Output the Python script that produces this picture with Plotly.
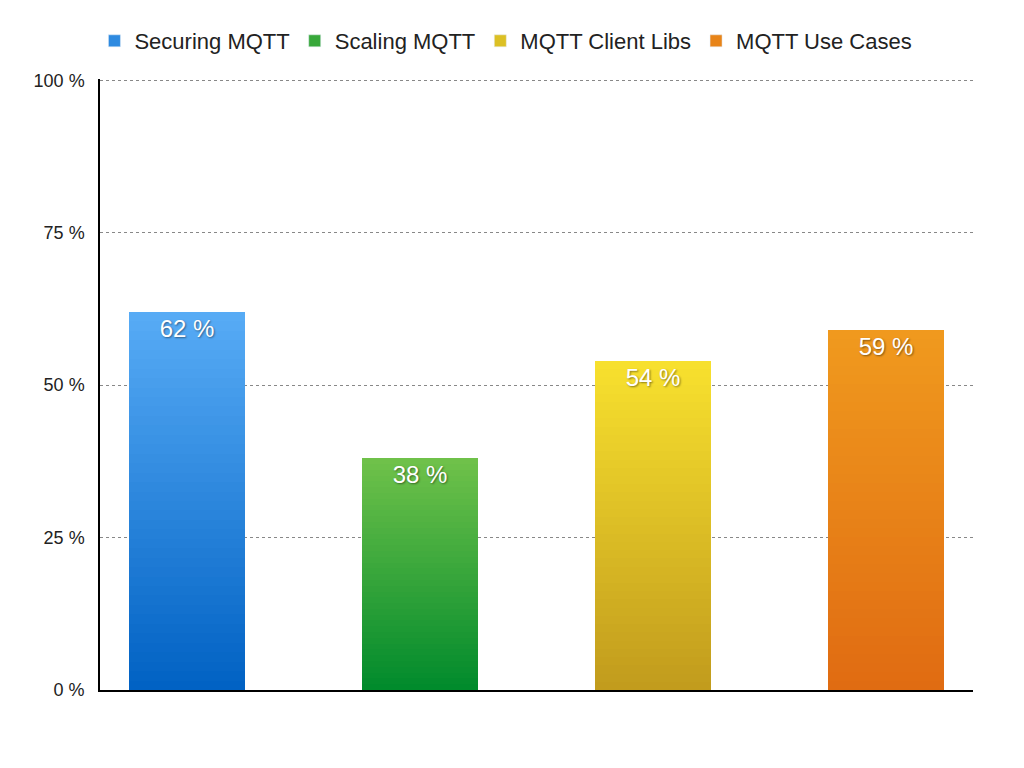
import plotly.graph_objects as go

categories = ["Securing MQTT", "Scaling MQTT", "MQTT Client Libs", "MQTT Use Cases"]
values = [62, 38, 54, 59]
top_colors = ["#58acf6", "#70c24a", "#f8e12e", "#f09a1e"]
bottom_colors = ["#0061c3", "#008a2c", "#c19b1d", "#e06b12"]
legend_colors = ["#2e8ae0", "#38a83a", "#dcc024", "#e88418"]
y_ticks = [0, 25, 50, 75, 100]
y_tick_labels = ["0 %", "25 %", "50 %", "75 %", "100 %"]

N_SEG = 40
FONT = "Liberation Sans, Helvetica, Arial, sans-serif"


def hex_to_rgb(h):
    h = h.lstrip("#")
    return tuple(int(h[i:i + 2], 16) for i in (0, 2, 4))


def mix(c1, c2, t):
    a, b = hex_to_rgb(c1), hex_to_rgb(c2)
    return "rgb({},{},{})".format(*[round(a[k] + (b[k] - a[k]) * t) for k in range(3)])


fig = go.Figure()

# gradient bars: each bar drawn as stacked slices of its own value
for ci, (cat, v) in enumerate(zip(categories, values)):
    for s in range(N_SEG):
        t = (s + 0.5) / N_SEG  # 0 bottom -> 1 top
        fig.add_trace(go.Bar(
            x=[ci], y=[v / N_SEG * (1.02 if s < N_SEG - 1 else 1.0)], base=[v * s / N_SEG],
            width=0.5,
            marker=dict(color=mix(bottom_colors[ci], top_colors[ci], t), line=dict(width=0)),
            showlegend=False, hoverinfo="skip",
        ))

# label overlay + legend entries
for ci, (cat, v) in enumerate(zip(categories, values)):
    fig.add_trace(go.Bar(
        x=[ci], y=[v], base=[0], width=0.5, name=cat,
        marker=dict(color="rgba(0,0,0,0)", line=dict(width=0)),
        text=[f"{v} %"], textposition="inside", insidetextanchor="end",
        textfont=dict(color="white", size=24, family=FONT,
                      shadow="1px 1px 2px rgba(0,0,0,0.45)"),
        showlegend=False, hoverinfo="x+y",
    ))
    fig.add_trace(go.Bar(
        x=[None], y=[None], name=cat,
        marker=dict(color=legend_colors[ci]),
        showlegend=True,
    ))

fig.update_layout(
    width=1024, height=768,
    barmode="overlay",
    paper_bgcolor="white", plot_bgcolor="white",
    margin=dict(l=92, r=59, t=71, b=86, autoexpand=False),
    font=dict(family=FONT, color="#222222"),
    legend=dict(orientation="h", x=0.465, xanchor="center", y=0.957, yanchor="middle",
                yref="container", font=dict(size=22, family=FONT, color="#222"),
                traceorder="normal"),
    xaxis=dict(range=[-0.373, 3.373], showticklabels=False, showgrid=False,
               zeroline=False, showline=True, linecolor="black", linewidth=1.5,
               ticks="", automargin=False),
    yaxis=dict(range=[0, 100.2], tickvals=y_ticks, ticktext=y_tick_labels,
               showgrid=True, gridcolor="#888888", griddash="dot", gridwidth=1,
               zeroline=False, showline=True, linecolor="black", linewidth=1.5,
               ticks="", tickfont=dict(size=18, family=FONT, color="#222"),
               ticklabelstandoff=10, automargin=False),
    bargap=0,
)

fig.write_html("out.html")
